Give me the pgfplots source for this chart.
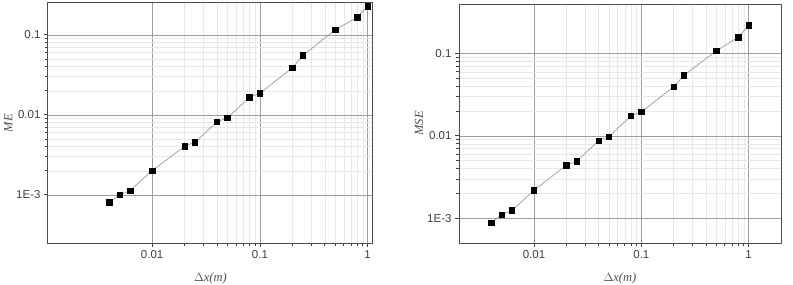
\documentclass[border=0pt]{standalone}
\usepackage{pgfplots}
\pgfplotsset{compat=1.18}
\usepackage{fontspec}
\setmainfont{Liberation Sans}
\newfontfamily\serif{Liberation Serif}
\pgfplotstableread{
x y
0.004 0.00081
0.005 0.00100
0.00625 0.00113
0.01 0.00201
0.02 0.00405
0.025 0.00455
0.04 0.00818
0.05 0.00917
0.08 0.0166
0.1 0.0186
0.2 0.0387
0.25 0.0551
0.5 0.1155
0.8 0.166
1 0.228
}\metab
\pgfplotstableread{
x y
0.004 0.000885
0.005 0.00110
0.00625 0.00124
0.01 0.00219
0.02 0.00440
0.025 0.00493
0.04 0.00877
0.05 0.00980
0.08 0.0175
0.1 0.0196
0.2 0.0394
0.25 0.0546
0.5 0.108
0.8 0.158
1 0.221
}\msetab
\begin{document}
\begin{tikzpicture}
\useasboundingbox (-48pt,-41pt) rectangle (745pt,243pt);
\begin{loglogaxis}[at={(0pt,0pt)}, anchor=south west, width=325pt, height=240pt,
    scale only axis,
    xmin=0.00108, xmax=1.12, ymin=0.00025, ymax=0.25,
    axis line style={draw=black!70, line width=1pt},
    tick align=outside, xtick pos=left, ytick pos=left,
    major tick length=4pt, minor tick length=3pt,
    every tick/.style={black!75, line width=0.8pt},
    grid=both,
    major grid style={black!38, line width=0.5pt},
    minor grid style={black!9, line width=0.4pt},
    xtick={0.01,0.1,1}, xticklabels={0.01,0.1,1},
    ytick={0.001,0.01,0.1}, yticklabels={1E-3,0.01,0.1},
    tick label style={font=\fontsize{11.5}{13}\selectfont, text=black!75},
    label style={font=\serif\itshape\fontsize{12.5}{14}\selectfont, text=black!70},
    xlabel={$\Delta$x(m)}, ylabel={ME},
    xlabel style={yshift=-7pt}, ylabel style={yshift=-3pt}]
\addplot[black!40, line width=0.7pt, mark=square*, mark size=2.7pt,
    mark options={black, draw=black, solid}] table[x=x,y=y] {\metab};
\end{loglogaxis}
\begin{loglogaxis}[at={(411pt,0pt)}, anchor=south west, width=322pt, height=239pt,
    scale only axis,
    xmin=0.002, xmax=2, ymin=0.0005, ymax=0.40,
    axis line style={draw=black!70, line width=1pt},
    tick align=outside, xtick pos=left, ytick pos=left,
    major tick length=4pt, minor tick length=3pt,
    every tick/.style={black!75, line width=0.8pt},
    grid=both,
    major grid style={black!38, line width=0.5pt},
    minor grid style={black!9, line width=0.4pt},
    xtick={0.01,0.1,1}, xticklabels={0.01,0.1,1},
    ytick={0.001,0.01,0.1}, yticklabels={1E-3,0.01,0.1},
    tick label style={font=\fontsize{11.5}{13}\selectfont, text=black!75},
    label style={font=\serif\itshape\fontsize{12.5}{14}\selectfont, text=black!70},
    xlabel={$\Delta$x(m)}, ylabel={MSE},
    xlabel style={yshift=-7pt}, ylabel style={yshift=-3pt}]
\addplot[black!40, line width=0.7pt, mark=square*, mark size=2.7pt,
    mark options={black, draw=black, solid}] table[x=x,y=y] {\msetab};
\end{loglogaxis}
\end{tikzpicture}
\end{document}
